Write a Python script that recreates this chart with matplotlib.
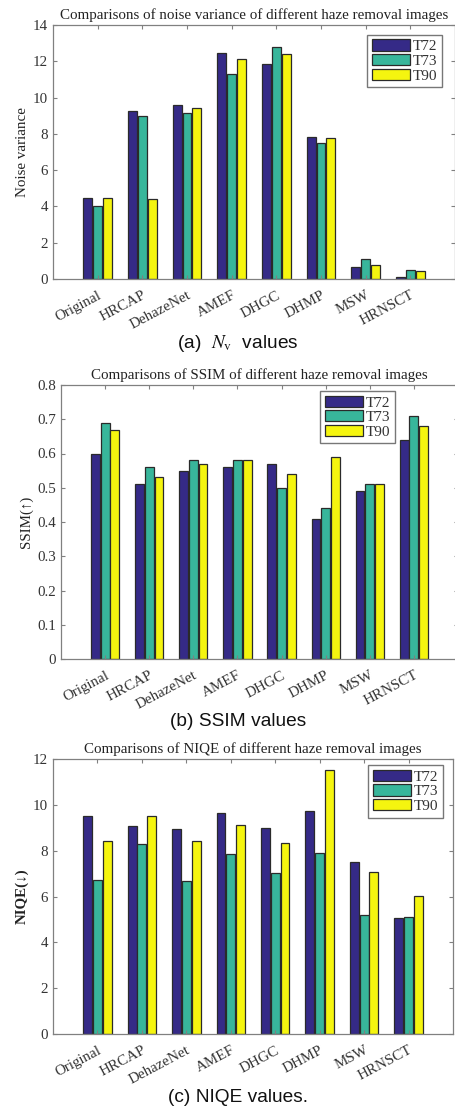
import matplotlib
matplotlib.use("Agg")
import matplotlib.pyplot as plt
from matplotlib.ticker import FormatStrFormatter
import numpy as np

plt.rcParams["font.family"] = ["Liberation Serif", "DejaVu Serif"]
plt.rcParams["mathtext.fontset"] = "stix"

methods = ["Original", "HRCAP", "DehazeNet", "AMEF", "DHGC", "DHMP", "MSW", "HRNSCT"]
series_names = ["T72", "T73", "T90"]
series_colors = ["#352a87", "#38b69b", "#f5f50f"]

noise_t72 = [4.48, 9.28, 9.60, 12.44, 11.85, 7.82, 0.65, 0.13]
noise_t73 = [4.03, 8.98, 9.17, 11.32, 12.76, 7.48, 1.08, 0.52]
noise_t90 = [4.48, 4.39, 9.41, 12.14, 12.38, 7.76, 0.77, 0.45]

ssim_t72 = [0.60, 0.51, 0.55, 0.56, 0.57, 0.41, 0.49, 0.64]
ssim_t73 = [0.69, 0.56, 0.58, 0.58, 0.50, 0.44, 0.51, 0.71]
ssim_t90 = [0.67, 0.53, 0.57, 0.58, 0.54, 0.59, 0.51, 0.68]

niqe_t72 = [9.52, 9.09, 8.93, 9.66, 9.01, 9.71, 7.52, 5.08]
niqe_t73 = [6.72, 8.29, 6.68, 7.85, 7.02, 7.91, 5.21, 5.10]
niqe_t90 = [8.44, 9.53, 8.43, 9.13, 8.33, 11.53, 7.07, 6.01]


def draw_panel(ax, values, title, ylabel, ymax, ystep, legend_anchor,
               title_size=10.8, ylabel_bold=False):
    x = np.arange(1, len(methods) + 1)
    offsets = [-0.22, 0.0, 0.22]

    for k, vals in enumerate(values):
        ax.bar(
            x + offsets[k],
            vals,
            width=0.2,
            color=series_colors[k],
            edgecolor="#2a2a2a",
            linewidth=0.9,
            label=series_names[k],
        )

    ax.set_xlim(0, 9)
    ax.set_ylim(0, ymax)
    ax.set_xticks(x)
    ax.set_xticklabels(methods, rotation=28, ha="right", rotation_mode="anchor",
                       fontsize=10.8, color="#333333")
    ax.set_yticks(np.arange(0, ymax + ystep / 2, ystep))
    ax.yaxis.set_major_formatter(FormatStrFormatter("%g"))
    ax.tick_params(direction="in", length=3, top=True, right=True,
                   colors="#808080", labelcolor="#333333", labelsize=10.8)
    ax.tick_params(axis="x", pad=7)

    for s in ax.spines.values():
        s.set_color("#808080")
        s.set_linewidth(0.9)

    ax.set_title(title, fontsize=title_size, color="#222222", pad=4)
    ax.set_ylabel(ylabel, fontsize=10.8, color="#222222",
                  fontweight="bold" if ylabel_bold else "normal", labelpad=3)

    leg = ax.legend(loc="upper right", bbox_to_anchor=legend_anchor,
                    fontsize=11, handlelength=2.5, handleheight=0.75,
                    handletextpad=0.2, labelspacing=0.05, borderpad=0.3,
                    borderaxespad=0.0, fancybox=False)
    leg.get_frame().set_edgecolor("#555555")
    leg.get_frame().set_linewidth(1.0)
    for t in leg.get_texts():
        t.set_color("#333333")


fig = plt.figure(figsize=(4.56, 11.10), dpi=100)
W, H = 456.0, 1110.0

ax1 = fig.add_axes([53 / W, (H - 279) / H, (455 - 53) / W, 254 / H])
draw_panel(ax1, [noise_t72, noise_t73, noise_t90],
           "Comparisons of noise variance of different haze removal images",
           "Noise variance", 14, 2, (0.968, 0.961))

ax2 = fig.add_axes([61 / W, (H - 659) / H, (458 - 61) / W, 274 / H])
draw_panel(ax2, [ssim_t72, ssim_t73, ssim_t90],
           "Comparisons of SSIM of different haze removal images",
           "SSIM(\u2191)", 0.8, 0.1, (0.841, 0.978), title_size=10.8)

ax3 = fig.add_axes([53 / W, (H - 1034) / H, (453 - 53) / W, 275 / H])
draw_panel(ax3, [niqe_t72, niqe_t73, niqe_t90],
           "Comparisons of NIQE of different haze removal images",
           "NIQE(\u2193)", 12, 2, (0.975, 0.978), ylabel_bold=True)

cap_kw = dict(ha="center", va="center", fontsize=13.8, family="Liberation Sans", color="#111111")
fig.text(238 / W, 1 - 343 / H, r"(a)  $N_{\mathrm{v}}$  values", **cap_kw)
fig.text(238 / W, 1 - 722 / H, "(b) SSIM values", **cap_kw)
fig.text(238 / W, 1 - 1098 / H, "(c) NIQE values.", **cap_kw)

fig.savefig("out.png", dpi=100)
